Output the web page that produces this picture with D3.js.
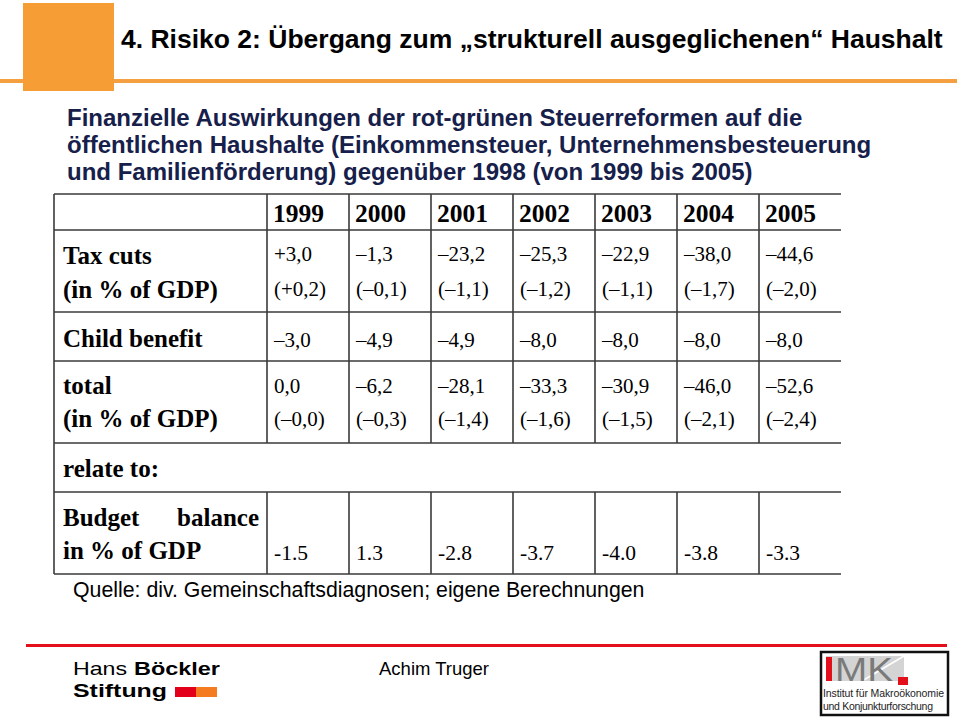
<!DOCTYPE html>
<html>
<head>
<meta charset="utf-8">
<script src="https://cdn.jsdelivr.net/npm/d3@7"></script>
<style>
  body { margin: 0; background: #fff; }
  svg { display: block; }
</style>
</head>
<body>
<div id="slide"></div>
<script>
// table data
var years = ["1999", "2000", "2001", "2002", "2003", "2004", "2005"];
var taxCuts = [3.0, -1.3, -23.2, -25.3, -22.9, -38.0, -44.6];
var taxCutsGdp = [0.2, -0.1, -1.1, -1.2, -1.1, -1.7, -2.0];
var childBenefit = [-3.0, -4.9, -4.9, -8.0, -8.0, -8.0, -8.0];
var total = [0.0, -6.2, -28.1, -33.3, -30.9, -46.0, -52.6];
var totalGdp = [-0.0, -0.3, -1.4, -1.6, -1.5, -2.1, -2.4];
var budgetBalance = [-1.5, 1.3, -2.8, -3.7, -4.0, -3.8, -3.3];

var W = 960, H = 717;
var svg = d3.select("#slide").append("svg")
    .attr("width", W)
    .attr("height", H);

var sans = "'Liberation Sans', Arial, sans-serif";
var serif = "'Liberation Serif', 'Times New Roman', serif";

// german number format: comma decimal, en dash for minus
var fmtDe = function (v, plus) {
    var s = d3.format(".1f")(Math.abs(v)).replace(".", ",");
    if (v < 0 || Object.is(v, -0)) return "\u2013" + s;
    if (v > 0 && plus) return "+" + s;
    return s;
};
var fmtEn = d3.formatLocale({decimal: ".", thousands: ",", grouping: [3], currency: ["", ""], minus: "-"}).format(".1f");

// ---- header ----
svg.append("rect")
    .attr("x", 0).attr("y", 79).attr("width", 957).attr("height", 4)
    .attr("fill", "#f4a040");
svg.append("rect")
    .attr("x", 23).attr("y", 3).attr("width", 91).attr("height", 88)
    .attr("fill", "#f79d36");

svg.append("text")
    .attr("x", 121).attr("y", 48)
    .style("font-family", sans).style("font-weight", "bold").style("font-size", "26.5px")
    .text("4. Risiko 2: \u00dcbergang zum \u201estrukturell ausgeglichenen\u201c Haushalt");

var subLines = [
    "Finanzielle Auswirkungen der rot-gr\u00fcnen Steuerreformen auf die",
    "\u00f6ffentlichen Haushalte (Einkommensteuer, Unternehmensbesteuerung",
    "und Familienf\u00f6rderung) gegen\u00fcber 1998 (von 1999 bis 2005)"
];
svg.selectAll(".sub")
    .data(subLines)
    .enter().append("text")
    .attr("class", "sub")
    .attr("x", 67)
    .attr("y", function (d, i) { return 126 + i * 27; })
    .style("font-family", sans).style("font-weight", "bold").style("font-size", "24px")
    .style("fill", "#16204a")
    .text(function (d) { return d; });

// ---- table ----
var x = d3.scaleBand().domain(years).range([267, 841]);
var left = 54, right = 841;
var hLines = [194, 230, 312, 361, 443, 492, 574];
var lineColor = "#3a3a3a";

var grid = svg.append("g");
grid.selectAll(".h")
    .data(hLines)
    .enter().append("line")
    .attr("x1", left).attr("x2", right)
    .attr("y1", function (d) { return d; }).attr("y2", function (d) { return d; })
    .attr("stroke", lineColor).attr("stroke-width", 1.6);
grid.append("line")
    .attr("x1", left).attr("x2", left).attr("y1", 194).attr("y2", 574)
    .attr("stroke", lineColor).attr("stroke-width", 1.6);
// column separators, none in the "relate to" row
[[194, 443], [492, 574]].forEach(function (seg) {
    grid.selectAll(null)
        .data(years)
        .enter().append("line")
        .attr("x1", function (d) { return x(d); }).attr("x2", function (d) { return x(d); })
        .attr("y1", seg[0]).attr("y2", seg[1])
        .attr("stroke", lineColor).attr("stroke-width", 1.6);
});

var label = function (txt, xx, yy) {
    return svg.append("text")
        .attr("x", xx).attr("y", yy)
        .style("font-family", serif).style("font-weight", "bold").style("font-size", "25px")
        .text(txt);
};
label("Tax cuts", 63, 264);
label("(in % of GDP)", 63, 298);
label("Child benefit", 63, 347);
label("total", 63, 394);
label("(in % of GDP)", 63, 427);
label("relate to:", 63, 477);
label("Budget", 63, 526);
label("balance", 259, 526).attr("text-anchor", "end");
label("in % of GDP", 63, 559);

// year header
svg.selectAll(".year")
    .data(years)
    .enter().append("text")
    .attr("x", function (d) { return x(d) + 6; })
    .attr("y", 222)
    .style("font-family", serif).style("font-weight", "bold").style("font-size", "25.5px")
    .text(function (d) { return d; });

var valueRow = function (vals, yy, fmt, size) {
    svg.selectAll(null)
        .data(vals)
        .enter().append("text")
        .attr("x", function (d, i) { return x(years[i]) + 7; })
        .attr("y", yy)
        .style("font-family", serif).style("font-size", size + "px")
        .text(fmt);
};
valueRow(taxCuts, 261, function (d) { return fmtDe(d, true); }, 21);
valueRow(taxCutsGdp, 296, function (d) { return "(" + fmtDe(d, true) + ")"; }, 21);
valueRow(childBenefit, 347, function (d) { return fmtDe(d, false); }, 21);
valueRow(total, 393, function (d) { return fmtDe(d, false); }, 21);
valueRow(totalGdp, 426, function (d) { return "(" + fmtDe(d, false) + ")"; }, 21);
valueRow(budgetBalance, 560, function (d) { return fmtEn(d); }, 21.5);

svg.append("text")
    .attr("x", 73).attr("y", 597)
    .style("font-family", sans).style("font-size", "21.3px")
    .text("Quelle: div. Gemeinschaftsdiagnosen; eigene Berechnungen");

// ---- footer ----
svg.append("rect")
    .attr("x", 26).attr("y", 644).attr("width", 921).attr("height", 3)
    .attr("fill", "#e3101c");

var logoText = function (txt, xx, yy, w, bold) {
    svg.append("text")
        .attr("x", xx).attr("y", yy)
        .style("font-family", sans).style("font-size", "19px")
        .style("font-weight", bold ? "bold" : "normal")
        .attr("textLength", w).attr("lengthAdjust", "spacingAndGlyphs")
        .text(txt);
};
logoText("Hans", 73, 675, 54, false);
logoText("B\u00f6ckler", 134, 675, 86, true);
logoText("Stiftung", 73, 697, 94, true);
svg.append("rect").attr("x", 175).attr("y", 687).attr("width", 21).attr("height", 10).attr("fill", "#e3001b");
svg.append("rect").attr("x", 196).attr("y", 687).attr("width", 21).attr("height", 10).attr("fill", "#f47b20");

svg.append("text")
    .attr("x", 379).attr("y", 675)
    .style("font-family", sans).style("font-size", "18.5px")
    .text("Achim Truger");

// IMK logo
var imk = svg.append("g");
imk.append("rect")
    .attr("x", 821).attr("y", 652).attr("width", 127).attr("height", 63)
    .attr("fill", "#fff").attr("stroke", "#111").attr("stroke-width", 2.5);
imk.append("rect")
    .attr("x", 826).attr("y", 656).attr("width", 78).attr("height", 25)
    .attr("fill", "#d4d4d4");
imk.append("line")
    .attr("x1", 862).attr("y1", 681).attr("x2", 904).attr("y2", 656)
    .attr("stroke", "#fff").attr("stroke-width", 1.5);
imk.append("rect")
    .attr("x", 826).attr("y", 657).attr("width", 6).attr("height", 24)
    .attr("fill", "#e3101c");
imk.append("text")
    .attr("x", 835).attr("y", 681)
    .style("font-family", sans).style("font-size", "33px").style("fill", "#7a7a7a")
    .attr("textLength", 58).attr("lengthAdjust", "spacingAndGlyphs")
    .text("MK");
imk.append("rect")
    .attr("x", 898).attr("y", 677).attr("width", 10).attr("height", 8)
    .attr("fill", "#e3101c");
imk.append("text")
    .attr("x", 823).attr("y", 697)
    .style("font-family", sans).style("font-size", "10.5px").style("fill", "#222")
    .attr("textLength", 121)
    .text("Institut f\u00fcr Makro\u00f6konomie");
imk.append("text")
    .attr("x", 823).attr("y", 710)
    .style("font-family", sans).style("font-size", "10.5px").style("fill", "#222")
    .attr("textLength", 110)
    .text("und Konjunkturforschung");
</script>
</body>
</html>
